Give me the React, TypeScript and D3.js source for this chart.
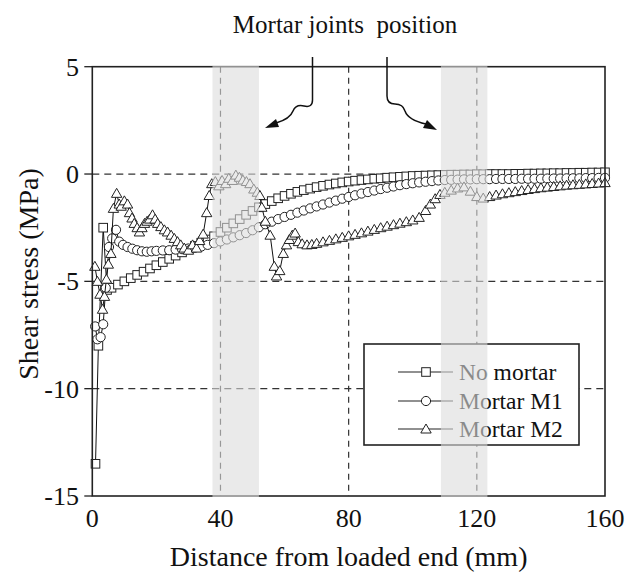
import React from "react";
import * as d3 from "d3";

const xTicks = [0, 40, 80, 120, 160];
const yTicks = [5, 0, -5, -10, -15];
const xGrid = [40, 80, 120];
const yGrid = [0, -5, -10];
const bands: [number, number][] = [[37.5, 52], [108.8, 123.3]];
const seriesNames = ["No mortar", "Mortar M1", "Mortar M2"];

const noMortar: [number, number][] = [
  [1, -13.5], [1.9, -8.0], [3.4, -2.5], [4.6, -5.4], [6, -5.3], [8, -5.15], [10, -5.0], [12, -4.85],
  [14, -4.7], [16, -4.55], [18, -4.4], [20, -4.25], [22, -4.1], [24, -3.95], [26, -3.8], [28, -3.65],
  [30, -3.5], [32, -3.35], [34, -3.2], [36, -3.05], [38, -2.9], [40, -2.7], [42, -2.5], [44, -2.3],
  [46, -2.1], [48, -1.9], [50, -1.72], [52, -1.55], [54, -1.4], [56, -1.26], [58, -1.13], [60, -1.02],
  [62, -0.92], [64, -0.83], [66, -0.75], [68, -0.68], [70, -0.61], [72, -0.55], [74, -0.49], [76, -0.44],
  [78, -0.39], [80, -0.35], [82, -0.31], [84, -0.28], [86, -0.25], [88, -0.22], [90, -0.2], [92, -0.17],
  [94, -0.15], [96, -0.13], [98, -0.11], [100, -0.09], [102, -0.08], [104, -0.07], [106, -0.06], [108, -0.05],
  [110, -0.04], [112, -0.03], [114, -0.03], [116, -0.02], [118, -0.02], [120, -0.01], [122, -0.01], [124, 0],
  [126, 0], [128, 0], [130, 0], [132, 0.01], [134, 0.01], [136, 0.02], [138, 0.02], [140, 0.03],
  [142, 0.03], [144, 0.04], [146, 0.04], [148, 0.05], [150, 0.05], [152, 0.06], [154, 0.06], [156, 0.07],
  [158, 0.07], [160, 0.08],
];

const mortarM1: [number, number][] = [
  [0.9, -7.1], [1.6, -7.7], [2.6, -7.6], [3.4, -7.0], [4.2, -5.3], [5.2, -3.4], [6.2, -3.0], [7.4, -2.6],
  [8.4, -3.15], [9.6, -3.3], [11, -3.4], [12.5, -3.48], [14, -3.55], [15.5, -3.6], [17, -3.62], [18.5, -3.6],
  [20, -3.58], [22, -3.56], [24, -3.55], [26, -3.52], [28, -3.5], [30, -3.47], [32, -3.43], [34, -3.38],
  [36, -3.3], [38, -3.22], [40, -3.14], [42, -3.05], [44, -2.95], [46, -2.85], [48, -2.75], [50, -2.62],
  [52, -2.48], [54, -2.34], [56, -2.22], [58, -2.1], [60, -2.0], [62, -1.9], [64, -1.8], [66, -1.7],
  [68, -1.6], [70, -1.51], [72, -1.42], [74, -1.33], [76, -1.24], [78, -1.15], [80, -1.07], [82, -0.99],
  [84, -0.91], [86, -0.84], [88, -0.77], [90, -0.7], [92, -0.64], [94, -0.58], [96, -0.52], [98, -0.47],
  [100, -0.43], [102, -0.39], [104, -0.36], [106, -0.33], [108, -0.3], [110, -0.28], [112, -0.27], [114, -0.26],
  [116, -0.25], [118, -0.25], [120, -0.24], [122, -0.24], [124, -0.24], [126, -0.23], [128, -0.23], [130, -0.23],
  [132, -0.23], [134, -0.22], [136, -0.22], [138, -0.22], [140, -0.22], [142, -0.21], [144, -0.21], [146, -0.21],
  [148, -0.2], [150, -0.2], [152, -0.2], [154, -0.19], [156, -0.19], [158, -0.18], [160, -0.18],
];

const mortarM2: [number, number][] = [
  [0.8, -4.3], [1.6, -5.0], [2.4, -5.6], [3.2, -6.3], [3.8, -5.7], [4.4, -4.9], [5.0, -4.2], [5.8, -3.7],
  [6.6, -1.6], [7.6, -0.9], [8.4, -1.4], [9.0, -1.5], [10, -1.25], [11, -1.4], [11.6, -1.8], [12.4, -2.05],
  [13.1, -2.3], [14, -2.5], [14.7, -2.7], [15.5, -2.5], [16.3, -2.3], [17.1, -2.2], [17.9, -2.1], [18.8, -1.9],
  [19.6, -2.1], [20.4, -2.3], [21.4, -2.45], [22.5, -2.6], [23.5, -2.7], [24.6, -2.85], [25.6, -3.0], [26.6, -3.15],
  [27.6, -3.3], [28.7, -3.45], [30, -3.55], [31.3, -3.3], [32.5, -3.45], [33.5, -3.1], [34.6, -2.8], [35.7, -1.8],
  [36.5, -1.0], [37.3, -0.45], [38.4, -0.35], [39.5, -0.55], [40.5, -0.3], [41.6, -0.45], [42.6, -0.2], [43.7, -0.3],
  [44.8, -0.05], [45.9, -0.15], [47.0, -0.28], [48.1, -0.35], [49.2, -0.45], [50.4, -0.7], [51.5, -0.85], [52.3, -1.0],
  [52.9, -1.55], [54, -2.2], [55.5, -2.85], [56.8, -4.3], [57.5, -4.75], [58.5, -4.5], [59.6, -3.7], [60.6, -3.3],
  [61.5, -3.05], [62.4, -2.85], [63.3, -2.75], [64.3, -3.15], [65.5, -3.25], [67, -3.3], [68.5, -3.28], [70, -3.23],
  [72, -3.16], [74, -3.09], [76, -3.02], [78, -2.95], [80, -2.88], [82, -2.81], [84, -2.74], [86, -2.66],
  [88, -2.58], [90, -2.5], [92, -2.43], [94, -2.36], [96, -2.29], [98, -2.22], [100, -2.14], [102, -2.02],
  [104, -1.7], [105.5, -1.4], [107, -1.15], [108.5, -0.95], [110, -0.85], [112, -0.75], [114, -0.65], [116, -0.6],
  [118, -0.8], [120, -1.05], [122, -1.12], [124, -1.05], [126, -0.98], [128, -0.92], [130, -0.87], [132, -0.82],
  [134, -0.77], [136, -0.72], [138, -0.68], [140, -0.64], [142, -0.61], [144, -0.58], [146, -0.55], [148, -0.52],
  [150, -0.5], [152, -0.48], [154, -0.46], [156, -0.44], [158, -0.42], [160, -0.4],
];

const FONT = "Liberation Serif, Times New Roman, DejaVu Serif, serif";
const W = 629;
const H = 578;
const left = 92.3, right = 605, top = 66.7, bottom = 496;

type Shape = "square" | "circle" | "triangle";

function Marker({ x, y, shape }: { x: number; y: number; shape: Shape }) {
  const common = { fill: "#fff", stroke: "#222", strokeWidth: 1 };
  if (shape === "square") return <rect x={x - 4.3} y={y - 4.3} width={8.6} height={8.6} {...common} />;
  if (shape === "circle") return <circle cx={x} cy={y} r={4.6} {...common} />;
  return <path d={`M${x},${y - 5} L${x + 5.2},${y + 4} L${x - 5.2},${y + 4} Z`} {...common} />;
}

export default function App() {
  const xs = d3.scaleLinear().domain([0, 160]).range([left, right]);
  const ys = d3.scaleLinear().domain([-15, 5]).range([bottom, top]);
  const line = d3.line<[number, number]>().x((d) => xs(d[0])).y((d) => ys(d[1]));
  const series: { data: [number, number][]; shape: Shape }[] = [
    { data: noMortar, shape: "square" },
    { data: mortarM1, shape: "circle" },
    { data: mortarM2, shape: "triangle" },
  ];
  const legendX = 364, legendY = 344, legendW = 215, legendH = 101;
  const rowYs = [372, 401, 429];
  const tx = { fontFamily: FONT, fill: "#111" } as const;

  return (
    <svg width={W} height={H} style={{ position: "absolute", left: 0, top: 0, background: "#fff", fontFamily: FONT }}>
      <rect x={0} y={0} width={W} height={H} fill="#fff" />
      {xGrid.map((v) => (
        <line key={"gx" + v} x1={xs(v)} x2={xs(v)} y1={top} y2={bottom} stroke="#333" strokeWidth={1.2} strokeDasharray="6 5" />
      ))}
      {yGrid.map((v) => (
        <line key={"gy" + v} x1={left} x2={right} y1={ys(v)} y2={ys(v)} stroke="#333" strokeWidth={1.2} strokeDasharray="7 5" />
      ))}
      {series.map((s, i) => (
        <g key={"s" + i}>
          <path d={line(s.data) || ""} fill="none" stroke="#111" strokeWidth={1} />
          {s.data.map((d, j) => (
            <Marker key={j} x={xs(d[0])} y={ys(d[1])} shape={s.shape} />
          ))}
        </g>
      ))}
      <rect x={left} y={top} width={right - left} height={bottom - top} fill="none" stroke="#222" strokeWidth={1.6} />
      {yTicks.map((v) => (
        <g key={"yt" + v}>
          <line x1={left - 8} x2={left} y1={ys(v)} y2={ys(v)} stroke="#222" strokeWidth={1.3} />
          <text x={79} y={ys(v)} dy="0.35em" textAnchor="end" fontSize={26} style={tx}>{v}</text>
        </g>
      ))}
      {xTicks.map((v) => (
        <text key={"xt" + v} x={xs(v)} y={527} textAnchor="middle" fontSize={26} style={tx}>{v}</text>
      ))}
      <text x={(left + right) / 2} y={566} textAnchor="middle" fontSize={28} style={tx}>Distance from loaded end (mm)</text>
      <text transform={`translate(38,274) rotate(-90)`} textAnchor="middle" fontSize={28} style={tx}>Shear stress (MPa)</text>
      <rect x={legendX} y={legendY} width={legendW} height={legendH} fill="#fff" stroke="#222" strokeWidth={1.6} />
      {seriesNames.map((name, i) => (
        <g key={"lg" + i}>
          <line x1={398} x2={453} y1={rowYs[i]} y2={rowYs[i]} stroke="#222" strokeWidth={1.2} />
          <Marker x={426} y={rowYs[i]} shape={series[i].shape} />
          <text x={459} y={rowYs[i]} dy="0.35em" fontSize={23.5} style={tx}>{name}</text>
        </g>
      ))}
      {bands.map((b, i) => (
        <rect key={"b" + i} x={xs(b[0])} y={top - 1} width={xs(b[1]) - xs(b[0])} height={bottom - top + 2} fill="#dcdcdc" opacity={0.6} />
      ))}
      <text x={345} y={33} textAnchor="middle" fontSize={25} style={{ ...tx, whiteSpace: "pre" }}>{"Mortar joints  position"}</text>
      <path d="M312.5,57 L312.5,100 Q312.5,108 304,106 Q296,104 293,111 Q290,119 276,123" fill="none" stroke="#111" strokeWidth={1.5} />
      <path d="M265,128 L276,119 L279,127 Z" fill="#111" />
      <path d="M387,57 L387,96 Q387,104 395,104 Q403,104 405,111 Q408,120 426,124" fill="none" stroke="#111" strokeWidth={1.5} />
      <path d="M437,130 L423,128 L427,120 Z" fill="#111" />
    </svg>
  );
}
